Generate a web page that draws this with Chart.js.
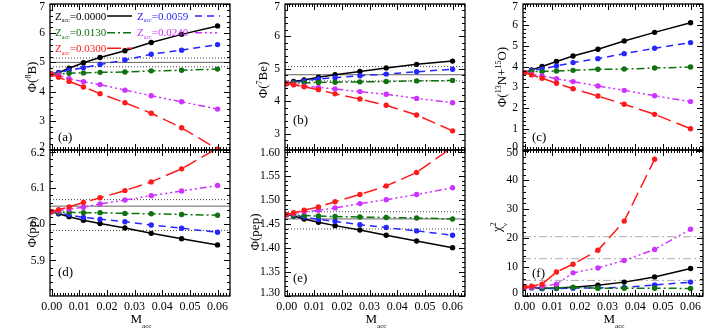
<!DOCTYPE html>
<html><head><meta charset="utf-8">
<script src="https://cdn.jsdelivr.net/npm/chart.js@4.4.1/dist/chart.umd.min.js"></script>
<style>
html,body{margin:0;padding:0;background:#fff;}
body{width:712px;height:330px;overflow:hidden;position:relative;}
canvas{position:absolute;}
</style></head><body>
<canvas id="pa"></canvas><canvas id="pb"></canvas><canvas id="pc"></canvas>
<canvas id="pd"></canvas><canvas id="pe"></canvas><canvas id="pf"></canvas>
<script>
// ---------------- data ----------------
const mAcc = [0, 0.0025, 0.0063, 0.0115, 0.0175, 0.0265, 0.036, 0.047, 0.060];
const zAccLabels = ['0.0000', '0.0059', '0.0130', '0.0240', '0.0300'];

const b8_z0000 = [4.60, 4.65, 4.80, 4.99, 5.17, 5.40, 5.68, 5.96, 6.25];
const b8_z0059 = [4.60, 4.66, 4.73, 4.82, 4.93, 5.08, 5.28, 5.42, 5.61];
const b8_z0130 = [4.60, 4.60, 4.63, 4.64, 4.66, 4.67, 4.71, 4.73, 4.77];
const b8_z0240 = [4.60, 4.56, 4.44, 4.34, 4.24, 4.05, 3.86, 3.65, 3.40];
const b8_z0300 = [4.60, 4.49, 4.35, 4.16, 3.93, 3.62, 3.26, 2.76, 2.03];

const be7_z0000 = [4.55, 4.61, 4.66, 4.74, 4.82, 4.92, 5.03, 5.14, 5.24];
const be7_z0059 = [4.55, 4.58, 4.63, 4.69, 4.73, 4.79, 4.84, 4.91, 4.99];
const be7_z0130 = [4.55, 4.56, 4.57, 4.58, 4.59, 4.60, 4.61, 4.63, 4.64];
const be7_z0240 = [4.55, 4.52, 4.47, 4.43, 4.38, 4.30, 4.22, 4.09, 3.96];
const be7_z0300 = [4.55, 4.51, 4.45, 4.36, 4.23, 4.07, 3.88, 3.58, 3.09];

const cno_z0000 = [3.71, 3.84, 4.00, 4.24, 4.51, 4.83, 5.23, 5.64, 6.10];
const cno_z0059 = [3.71, 3.82, 3.88, 4.03, 4.19, 4.38, 4.62, 4.88, 5.15];
const cno_z0130 = [3.71, 3.76, 3.76, 3.79, 3.82, 3.87, 3.88, 3.93, 3.98];
const cno_z0240 = [3.71, 3.64, 3.55, 3.42, 3.28, 3.07, 2.86, 2.60, 2.32];
const cno_z0300 = [3.71, 3.60, 3.44, 3.20, 2.94, 2.59, 2.19, 1.71, 1.02];

const pp_z0000 = [6.035, 6.029, 6.021, 6.011, 6.002, 5.990, 5.975, 5.960, 5.943];
const pp_z0059 = [6.035, 6.031, 6.026, 6.019, 6.014, 6.007, 5.998, 5.989, 5.978];
const pp_z0130 = [6.035, 6.033, 6.033, 6.032, 6.032, 6.030, 6.029, 6.027, 6.025];
const pp_z0240 = [6.035, 6.037, 6.042, 6.047, 6.056, 6.067, 6.079, 6.092, 6.107];
const pp_z0300 = [6.035, 6.040, 6.048, 6.060, 6.073, 6.093, 6.117, 6.153, 6.210];

const pep_z0000 = [1.469, 1.466, 1.460, 1.453, 1.446, 1.437, 1.426, 1.414, 1.400];
const pep_z0059 = [1.469, 1.468, 1.464, 1.459, 1.455, 1.448, 1.442, 1.435, 1.426];
const pep_z0130 = [1.469, 1.468, 1.467, 1.466, 1.465, 1.464, 1.463, 1.462, 1.460];
const pep_z0240 = [1.469, 1.471, 1.475, 1.478, 1.483, 1.492, 1.500, 1.511, 1.525];
const pep_z0300 = [1.469, 1.473, 1.478, 1.485, 1.496, 1.511, 1.529, 1.557, 1.610];

const chi_z0000 = [3.1, 3.0, 2.6, 2.8, 3.0, 3.7, 4.8, 6.6, 9.5];
const chi_z0059 = [3.1, 2.8, 2.6, 2.6, 2.7, 2.8, 3.0, 3.8, 4.8];
const chi_z0130 = [3.1, 2.9, 2.8, 2.8, 3.0, 2.7, 2.7, 2.7, 2.6];
const chi_z0240 = [3.1, 3.0, 3.4, 4.1, 8.0, 9.7, 12.3, 16.1, 23.1];
const chi_z0300 = [3.1, 3.4, 4.1, 8.3, 11.0, 15.8, 25.9, 47.3, 85.0];

// reference levels: [central (solid), upper, lower]
const refB8 = [5.00, 5.15, 4.85];
const refBe7 = [4.82, 5.07, 4.63];
const refPP = [6.050, 6.068, 5.983];
const refPep = [1.460, 1.475, 1.439];
const refChi = [20.5, 12.9, 5.4];

const xTickLabels = ['0.00', '0.01', '0.02', '0.03', '0.04', '0.05', '0.06'];
const yTicksB8 = ['2', '3', '4', '5', '6', '7'];
const yTicksBe7 = ['3', '4', '5', '6', '7'];
const yTicksCNO = ['0', '1', '2', '3', '4', '5', '6', '7'];
const yTicksPP = ['5.9', '6.0', '6.1', '6.2'];
const yTicksPep = ['1.30', '1.35', '1.40', '1.45', '1.50', '1.55', '1.60'];
const yTicksChi = ['0', '10', '20', '30', '40', '50'];

// ---------------- styling ----------------
const FONT = '"Liberation Serif","DejaVu Serif",serif';
const COLORS = ['#000000', '#2626ff', '#0f720f', '#cc33ff', '#ff1a1a'];
const DASHES = [[], [7, 5], [8, 3, 2, 3], [7, 3, 2, 3, 2, 3, 2, 3], [14, 6]];
const X_MIN = -0.0006, X_MAX = 0.0645;

// segs: [text, level(0 normal, 1 sup, -1 sub), stackUnderPrevious, customShift]
function drawRich(ctx, segs, x, y, size, align, color) {
  const parts = [];
  let total = 0;
  for (const s of segs) {
    const [t, lv, back, shift] = s;
    const fs = lv === 0 ? size : size * (lv > 0 ? 0.62 : 0.55);
    ctx.font = fs + 'px ' + FONT;
    const w = ctx.measureText(t).width;
    let dy = lv > 0 ? -size * 0.40 : (lv < 0 ? size * 0.40 : 0);
    if (shift !== undefined) dy = shift;
    parts.push({t, fs, w, dy, back});
    if (!back) total += w; else total += Math.max(0, w - parts[parts.length - 2].w);
  }
  let cx = align === 'center' ? x - total / 2 : (align === 'right' ? x - total : x);
  ctx.fillStyle = color; ctx.textBaseline = 'alphabetic'; ctx.textAlign = 'left';
  const base = y + size * 0.34;
  let prevW = 0;
  for (const p of parts) {
    if (p.back) cx -= prevW;
    ctx.font = p.fs + 'px ' + FONT;
    ctx.fillText(p.t, cx, base + p.dy);
    cx += p.back ? Math.max(prevW, p.w) : p.w;
    prevW = p.w;
  }
  return total;
}

function tickValues(min, max, step, n) {
  const out = [];
  const k0 = Math.ceil(min / step - 1e-9), k1 = Math.floor(max / step + 1e-9);
  for (let k = k0; k <= k1; k++) out.push({v: k * step, major: ((k % n) + n) % n === 0});
  return out;
}

function framePlugin(o) {
  return {
    id: 'frame' + o.id,
    afterDraw(chart) {
      const ctx = chart.ctx, a = chart.chartArea, xs = chart.scales.x, ys = chart.scales.y;
      ctx.save();
      ctx.strokeStyle = '#000'; ctx.lineWidth = 1;
      ctx.beginPath();
      for (const t of tickValues(X_MIN, X_MAX, 0.001, 10)) {
        const px = Math.round(xs.getPixelForValue(t.v)) + 0.5;
        const len = t.major ? 6 : 3;
        ctx.moveTo(px, a.bottom); ctx.lineTo(px, a.bottom - len);
        ctx.moveTo(px, a.top); ctx.lineTo(px, a.top + len);
      }
      for (const t of tickValues(ys.min, ys.max, o.yMinor, o.yN)) {
        const py = Math.round(ys.getPixelForValue(t.v)) + 0.5;
        const len = t.major ? 6 : 3;
        ctx.moveTo(a.left, py); ctx.lineTo(a.left + len, py);
        ctx.moveTo(a.right, py); ctx.lineTo(a.right - len, py);
      }
      ctx.stroke();
      ctx.lineWidth = 1.3;
      ctx.strokeRect(a.left, a.top, a.right - a.left, a.bottom - a.top);
      // y tick labels
      ctx.fillStyle = '#000'; ctx.textAlign = 'right'; ctx.textBaseline = 'middle';
      ctx.font = '11.5px ' + FONT;
      for (const lab of o.yTicks) {
        let py = ys.getPixelForValue(parseFloat(lab));
        py = Math.min(Math.max(py, a.top + 3), a.bottom - 3.5);
        ctx.fillText(lab, a.left - 5, py);
      }
      // x tick labels
      if (o.xLabels) {
        ctx.textAlign = 'center';
        ctx.font = '12px ' + FONT;
        for (const lab of xTickLabels) {
          ctx.fillText(lab, xs.getPixelForValue(parseFloat(lab)), a.bottom + 11);
        }
        drawRich(ctx, [['M', 0], ['acc', -1, false, 5]], (a.left + a.right) / 2 + 1, a.bottom + 23, 13, 'center', '#000');
      }
      // y title
      ctx.save();
      ctx.translate(a.left - o.titleDx, a.top + o.titleDy);
      ctx.rotate(-Math.PI / 2);
      drawRich(ctx, o.title, 0, 0, 13, 'center', '#000');
      ctx.restore();
      // panel label
      drawRich(ctx, [[o.label, 0]], a.left + o.labelPos[0], a.top + o.labelPos[1], 13, 'left', '#000');
      // legend
      if (o.legend) {
        const rows = [[0, 1], [2, 3], [4]];
        const rowY = [12, 28.7, 44.3];
        const textX = [5, 87], lineX = [[57, 82], [145, 170]];
        rows.forEach((row, r) => row.forEach((si, c) => {
          const y = a.top + rowY[r];
          drawRich(ctx, [['Z', 0], ['acc', -1, false, 2.5], ['=' + zAccLabels[si], 0]], a.left + textX[c], y, 11, 'left', COLORS[si]);
          ctx.save();
          ctx.strokeStyle = COLORS[si]; ctx.lineWidth = 1.5; ctx.setLineDash(DASHES[si]);
          ctx.beginPath(); ctx.moveTo(a.left + lineX[c][0], y); ctx.lineTo(a.left + lineX[c][1], y); ctx.stroke();
          ctx.restore();
        }));
      }
      ctx.restore();
    }
  };
}

function makePanel(o) {
  const cv = document.getElementById(o.id);
  const padL = 52, padR = 8, padT = 6, padB = 34;
  const b = o.box;
  const W = b.r - b.l + padL + padR, H = b.b - b.t + padT + padB;
  cv.width = W; cv.height = H;
  cv.style.width = W + 'px'; cv.style.height = H + 'px';
  cv.style.left = (b.l - padL) + 'px'; cv.style.top = (b.t - padT) + 'px';
  const datasets = [];
  if (o.refs) {
    o.refs.forEach((v, i) => {
      const chi = o.refStyle === 'dashdot';
      datasets.push({
        data: [{x: X_MIN, y: v}, {x: X_MAX, y: v}],
        borderColor: chi ? '#aaaaaa' : (i === 0 ? '#666666' : '#444444'),
        borderDash: chi ? [8, 3, 2, 3] : (i === 0 ? [] : [1, 2]),
        borderWidth: 1, pointRadius: 0, order: 10
      });
    });
  }
  o.series.forEach((vals, i) => {
    datasets.push({
      data: mAcc.map((x, k) => ({x, y: vals[k]})),
      borderColor: COLORS[i], backgroundColor: COLORS[i], pointBackgroundColor: COLORS[i],
      borderDash: DASHES[i], borderWidth: 1.5, pointRadius: 2.7, pointBorderWidth: 0,
      tension: 0, order: 4 - i
    });
  });
  new Chart(cv, {
    type: 'line',
    data: {datasets},
    options: {
      responsive: false, animation: false, devicePixelRatio: 1,
      layout: {padding: {left: padL, right: padR, top: padT, bottom: padB}},
      plugins: {legend: {display: false}, tooltip: {enabled: false}},
      scales: {
        x: {type: 'linear', min: X_MIN, max: X_MAX, display: false},
        y: {type: 'linear', min: o.yMin, max: o.yMax, display: false}
      }
    },
    plugins: [framePlugin(o)]
  });
}

makePanel({id: 'pa', box: {l: 50, t: 4, r: 230, b: 150}, yMin: 2, yMax: 7, yMinor: 0.2, yN: 5,
  yTicks: yTicksB8, series: [b8_z0000, b8_z0059, b8_z0130, b8_z0240, b8_z0300], refs: refB8,
  title: [['Φ(', 0], ['8', 1], ['B)', 0]], titleDx: 18, titleDy: 73, label: '(a)', labelPos: [8, 133], legend: true});
makePanel({id: 'pb', box: {l: 285, t: 4, r: 465, b: 150}, yMin: 2.5, yMax: 7, yMinor: 0.2, yN: 5,
  yTicks: yTicksBe7, series: [be7_z0000, be7_z0059, be7_z0130, be7_z0240, be7_z0300], refs: refBe7,
  title: [['Φ(', 0], ['7', 1], ['Be)', 0]], titleDx: 22, titleDy: 76, label: '(b)', labelPos: [8, 116]});
makePanel({id: 'pc', box: {l: 523, t: 4, r: 703, b: 150}, yMin: 0, yMax: 7, yMinor: 0.2, yN: 5,
  yTicks: yTicksCNO, series: [cno_z0000, cno_z0059, cno_z0130, cno_z0240, cno_z0300],
  title: [['Φ(', 0], ['13', 1], ['N+', 0], ['15', 1], ['O)', 0]], titleDx: 21, titleDy: 73, label: '(c)', labelPos: [9, 133]});
makePanel({id: 'pd', box: {l: 50, t: 150, r: 230, b: 296}, yMin: 5.802, yMax: 6.205, yMinor: 0.02, yN: 5,
  yTicks: yTicksPP, series: [pp_z0000, pp_z0059, pp_z0130, pp_z0240, pp_z0300], refs: refPP,
  title: [['Φ(pp)', 0]], titleDx: 18, titleDy: 82, label: '(d)', labelPos: [8, 122], xLabels: true});
makePanel({id: 'pe', box: {l: 285, t: 150, r: 465, b: 296}, yMin: 1.299, yMax: 1.604, yMinor: 0.01, yN: 5,
  yTicks: yTicksPep, series: [pep_z0000, pep_z0059, pep_z0130, pep_z0240, pep_z0300], refs: refPep,
  title: [['Φ(pep)', 0]], titleDx: 30, titleDy: 82, label: '(e)', labelPos: [8, 128], xLabels: true});
makePanel({id: 'pf', box: {l: 523, t: 150, r: 703, b: 296}, yMin: 0, yMax: 50.5, yMinor: 2, yN: 5,
  yTicks: yTicksChi, series: [chi_z0000, chi_z0059, chi_z0130, chi_z0240, chi_z0300], refs: refChi, refStyle: 'dashdot',
  title: [['χ', 0], ['2', 1], ['ν', -1, true]], titleDx: 26, titleDy: 77, label: '(f)', labelPos: [9, 123], xLabels: true});
</script>
</body></html>
